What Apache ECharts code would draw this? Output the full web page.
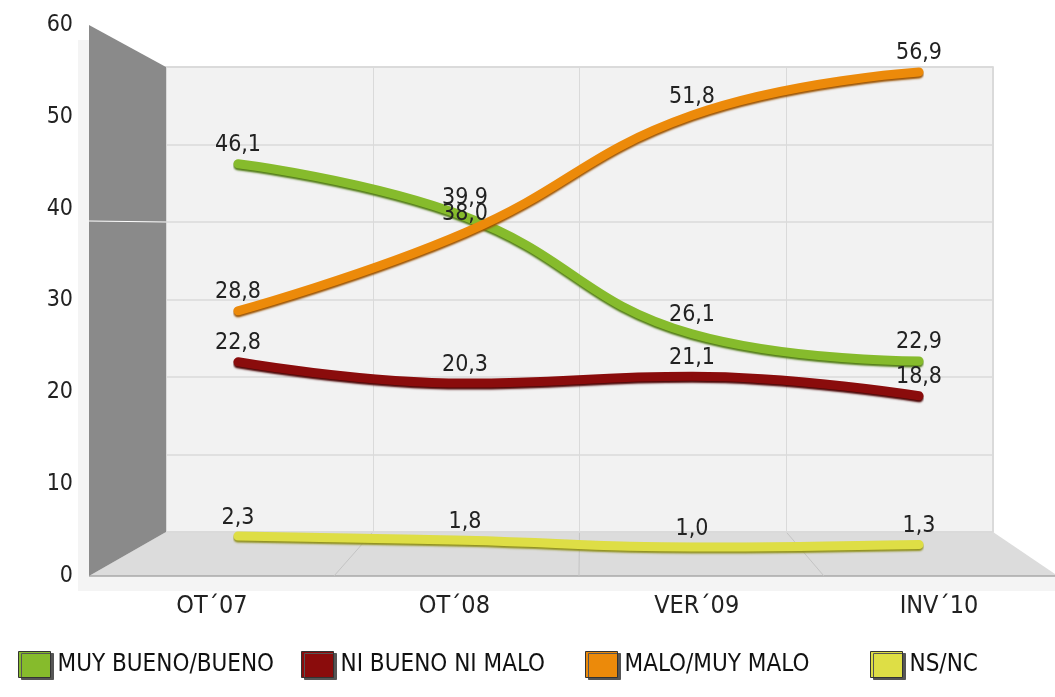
<!DOCTYPE html>
<html>
<head>
<meta charset="utf-8">
<script src="https://cdn.jsdelivr.net/npm/echarts@6/dist/echarts.min.js"></script>
<style>html,body{margin:0;padding:0;background:#fff;}#c{width:1055px;height:697px;}</style>
</head>
<body>
<div id="c"></div>
<script>
var categories = ['OT´07', 'OT´08', 'VER´09', 'INV´10'];
var yTicks = [0, 10, 20, 30, 40, 50, 60];
var seriesNames = ['MUY BUENO/BUENO', 'NI BUENO NI MALO', 'MALO/MUY MALO', 'NS/NC'];
var muyBueno = [46.1, 39.9, 26.1, 22.9];
var niBueno = [22.8, 20.3, 21.1, 18.8];
var maloMuyMalo = [28.8, 38.0, 51.8, 56.9];
var nsnc = [2.3, 1.8, 1.0, 1.3];

var FONT = "'DejaVu Sans Condensed', 'DejaVu Sans', sans-serif";
var colors = ['#86bb2c', '#8a0c0c', '#ec8a0a', '#dede45'];
var shadows = ['#4f7a12', '#4a0000', '#9a5200', '#8f8f1a'];

// 3D frame geometry (decoration only)
var backL = 166, backR = 993, backT = 67, backB = 532;
var frontL = 89, frontT = 25, frontB = 576;
var scale = (frontB - frontT) / (backB - backT);

var chart = echarts.init(document.getElementById('c'), null, {renderer: 'canvas'});

function fmt(p) { return p.value.toFixed(1).replace('.', ','); }

var dataSets = [muyBueno, niBueno, maloMuyMalo, nsnc];
var series = dataSets.map(function (d, i) {
  return {
    name: seriesNames[i],
    type: 'line',
    xAxisIndex: 0, yAxisIndex: 0,
    data: d,
    smooth: 0.45,
    symbol: 'circle',
    symbolSize: 2,
    itemStyle: {color: colors[i]},
    lineStyle: {width: 9, color: colors[i], shadowColor: shadows[i], shadowBlur: 2, shadowOffsetY: 2, cap: 'round'},
    label: {show: true, position: 'top', distance: 6, formatter: fmt,
      fontFamily: FONT, fontSize: 23, color: '#222'},
    emphasis: {disabled: true},
    z: 5 + (i === 2 ? 1 : 0)
  };
});

// floor perspective lines (decoration)
var floorLines = [];
for (var k = 1; k < 4; k++) {
  var bx = backL + (backR - backL) * k / 4;
  var fx = frontL + (bx - backL) * scale;
  floorLines.push({type: 'line', z: -1, shape: {x1: bx, y1: backB, x2: fx, y2: frontB},
    style: {stroke: '#c4c4c4', lineWidth: 1}, silent: true});
}

var legends = seriesNames.map(function (n, i) {
  var lefts = [13, 296, 580, 865];
  return {
    data: [n], left: lefts[i], top: 646, icon: 'rect', itemWidth: 32, itemHeight: 26,
    selectedMode: false,
    itemStyle: {borderColor: '#333', borderWidth: 1, shadowColor: '#555', shadowOffsetX: 3, shadowOffsetY: 2, shadowBlur: 0},
    textStyle: {fontFamily: FONT, fontSize: 24, color: '#111', padding: [0, 0, 0, 2]}
  };
});

var option = {
  backgroundColor: '#ffffff',
  animation: false,
  legend: legends,
  graphic: [
    {type: 'polygon', z: -2, silent: true, shape: {points: [[78, 40], [frontL, 40], [frontL, frontB], [1055, frontB], [1055, 591], [78, 591]]},
      style: {fill: '#f4f4f4'}},
    {type: 'rect', z: -2, silent: true, shape: {x: backL, y: backT, width: backR - backL, height: backB - backT},
      style: {fill: '#f2f2f2', stroke: '#d2d2d2', lineWidth: 1.5}},
    {type: 'polygon', z: -2, silent: true,
      shape: {points: [[backL, backB], [backR, backB], [1055, 574], [1055, frontB], [frontL, frontB]]},
      style: {fill: '#dcdcdc'}},
    {type: 'line', z: -1, silent: true, shape: {x1: frontL, y1: frontB, x2: 1055, y2: frontB}, style: {stroke: '#a8a8a8', lineWidth: 1.5}},
    {type: 'polygon', z: -1, silent: true,
      shape: {points: [[frontL, frontT], [backL, backT], [backL, backB], [frontL, frontB]]},
      style: {fill: '#8a8a8a'}},
    {type: 'line', z: -1, silent: true, shape: {x1: frontL, y1: 221, x2: backL, y2: 222}, style: {stroke: '#ffffff', lineWidth: 1}}
  ].concat(floorLines),
  grid: [
    {left: 238, right: 136, top: 45.6, bottom: 141.4},           // data plane (mid depth)
    {left: frontL, width: 10, top: frontT, bottom: 697 - frontB}, // front y labels
    {left: 212, right: 116, top: 560, bottom: 697 - frontB},      // front x labels
    {left: backL, right: 1055 - backR, top: backT, bottom: 697 - backB} // back wall grid
  ],
  xAxis: [
    {gridIndex: 0, type: 'category', data: categories, boundaryGap: false, show: false},
    {gridIndex: 1, type: 'value', show: false},
    {gridIndex: 2, type: 'category', data: categories, boundaryGap: false,
      axisLine: {show: false}, axisTick: {show: false},
      axisLabel: {fontFamily: FONT, fontSize: 25, color: '#222', margin: 18}},
    {gridIndex: 3, type: 'value', min: 0, max: 4, interval: 1,
      axisLine: {show: false}, axisTick: {show: false}, axisLabel: {show: false},
      splitLine: {show: true, lineStyle: {color: '#dadada', width: 1}}}
  ],
  yAxis: [
    {gridIndex: 0, type: 'value', min: 0, max: 60, show: false},
    {gridIndex: 1, type: 'value', min: yTicks[0], max: yTicks[yTicks.length - 1], interval: 10,
      axisLine: {show: false}, axisTick: {show: false}, splitLine: {show: false},
      axisLabel: {fontFamily: FONT, fontSize: 23, color: '#222', margin: 16}},
    {gridIndex: 2, type: 'value', show: false},
    {gridIndex: 3, type: 'value', min: 0, max: 60, interval: 10,
      axisLine: {show: false}, axisTick: {show: false}, axisLabel: {show: false},
      splitLine: {show: true, lineStyle: {color: '#dadada', width: 1.5}}}
  ],
  series: series
};
chart.setOption(option);
</script>
</body>
</html>
